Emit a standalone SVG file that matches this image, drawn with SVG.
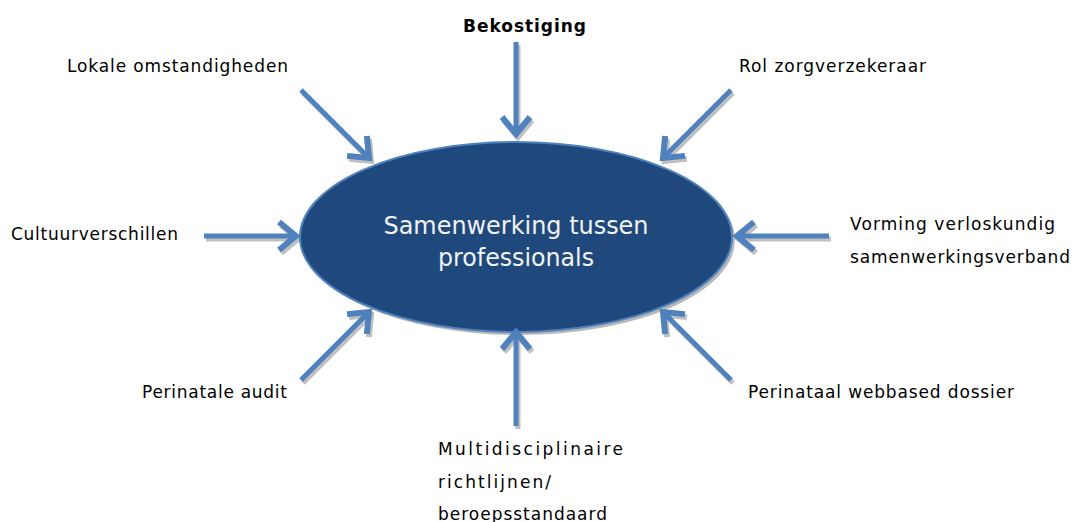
<svg xmlns="http://www.w3.org/2000/svg" width="1075" height="522" viewBox="0 0 1075 522">
<style>
.lbl{font-family:"DejaVu Sans",Verdana,sans-serif;font-size:17px;fill:#000}
.b{font-weight:bold}
.arr{fill:none;stroke:#4f81bd;stroke-width:5;marker-end:url(#chev)}
.sh{fill:none;stroke:#c0c0c0;stroke-width:5;marker-end:url(#chevs)}
.ctr{font-family:"DejaVu Sans",Verdana,sans-serif;font-size:24px;fill:#f2f2f2;text-anchor:middle}
</style>
<defs>
<marker id="chev" markerUnits="userSpaceOnUse" viewBox="-20 -15 24 30" markerWidth="24" markerHeight="30" refX="0" refY="0" orient="auto" overflow="visible">
<path d="M-17,-14 L0,0 L-17,14" fill="none" stroke="#4f81bd" stroke-width="6" stroke-linejoin="miter"/>
</marker>
<marker id="chevs" markerUnits="userSpaceOnUse" viewBox="-20 -15 24 30" markerWidth="24" markerHeight="30" refX="0" refY="0" orient="auto" overflow="visible">
<path d="M-17,-14 L0,0 L-17,14" fill="none" stroke="#c0c0c0" stroke-width="6" stroke-linejoin="miter"/>
</marker>
</defs>
<g id="connectors">
<g transform="translate(2,3)">
<path class="sh" d="M516,42 L516,134"/>
<path class="sh" d="M301,90 L369,158"/>
<path class="sh" d="M731,90 L663,158"/>
<path class="sh" d="M204,236 L296,236"/>
<path class="sh" d="M829,236 L737,236"/>
<path class="sh" d="M301,380 L369,312"/>
<path class="sh" d="M731,380 L663,312"/>
<path class="sh" d="M516,426 L516,332"/>
</g>
</g>
<g id="center">
<ellipse cx="519" cy="240" rx="216" ry="95" fill="#b8b8b8"/>
<ellipse cx="516" cy="237" rx="216" ry="95" fill="#1f497d" stroke="#4f81bd" stroke-width="2"/>
<text class="ctr" x="516" y="234" textLength="265" lengthAdjust="spacingAndGlyphs">Samenwerking tussen</text>
<text class="ctr" x="516" y="266" textLength="156" lengthAdjust="spacingAndGlyphs">professionals</text>
</g>
<g id="arrows">
<path class="arr" d="M516,42 L516,134"/>
<path class="arr" d="M301,90 L369,158"/>
<path class="arr" d="M731,90 L663,158"/>
<path class="arr" d="M204,236 L296,236"/>
<path class="arr" d="M829,236 L737,236"/>
<path class="arr" d="M301,380 L369,312"/>
<path class="arr" d="M731,380 L663,312"/>
<path class="arr" d="M516,426 L516,332"/>
</g>
<g id="n-bekostiging"><text class="lbl b" x="463" y="32" textLength="123">Bekostiging</text></g>
<g id="n-lokale"><text class="lbl" x="67" y="72" textLength="221">Lokale omstandigheden</text></g>
<g id="n-rol"><text class="lbl" x="739" y="72" textLength="187">Rol zorgverzekeraar</text></g>
<g id="n-cultuur"><text class="lbl" x="11" y="240" textLength="167">Cultuurverschillen</text></g>
<g id="n-vorming"><text class="lbl" x="850" y="230" textLength="205">Vorming verloskundig</text><text class="lbl" x="850" y="263" textLength="220">samenwerkingsverband</text></g>
<g id="n-audit"><text class="lbl" x="142" y="398" textLength="145">Perinatale audit</text></g>
<g id="n-dossier"><text class="lbl" x="748" y="398" textLength="266">Perinataal webbased dossier</text></g>
<g id="n-multi"><text class="lbl" x="438" y="455" textLength="185">Multidisciplinaire</text><text class="lbl" x="438" y="488" textLength="113">richtlijnen/</text><text class="lbl" x="438" y="520" textLength="169">beroepsstandaard</text></g>
</svg>
